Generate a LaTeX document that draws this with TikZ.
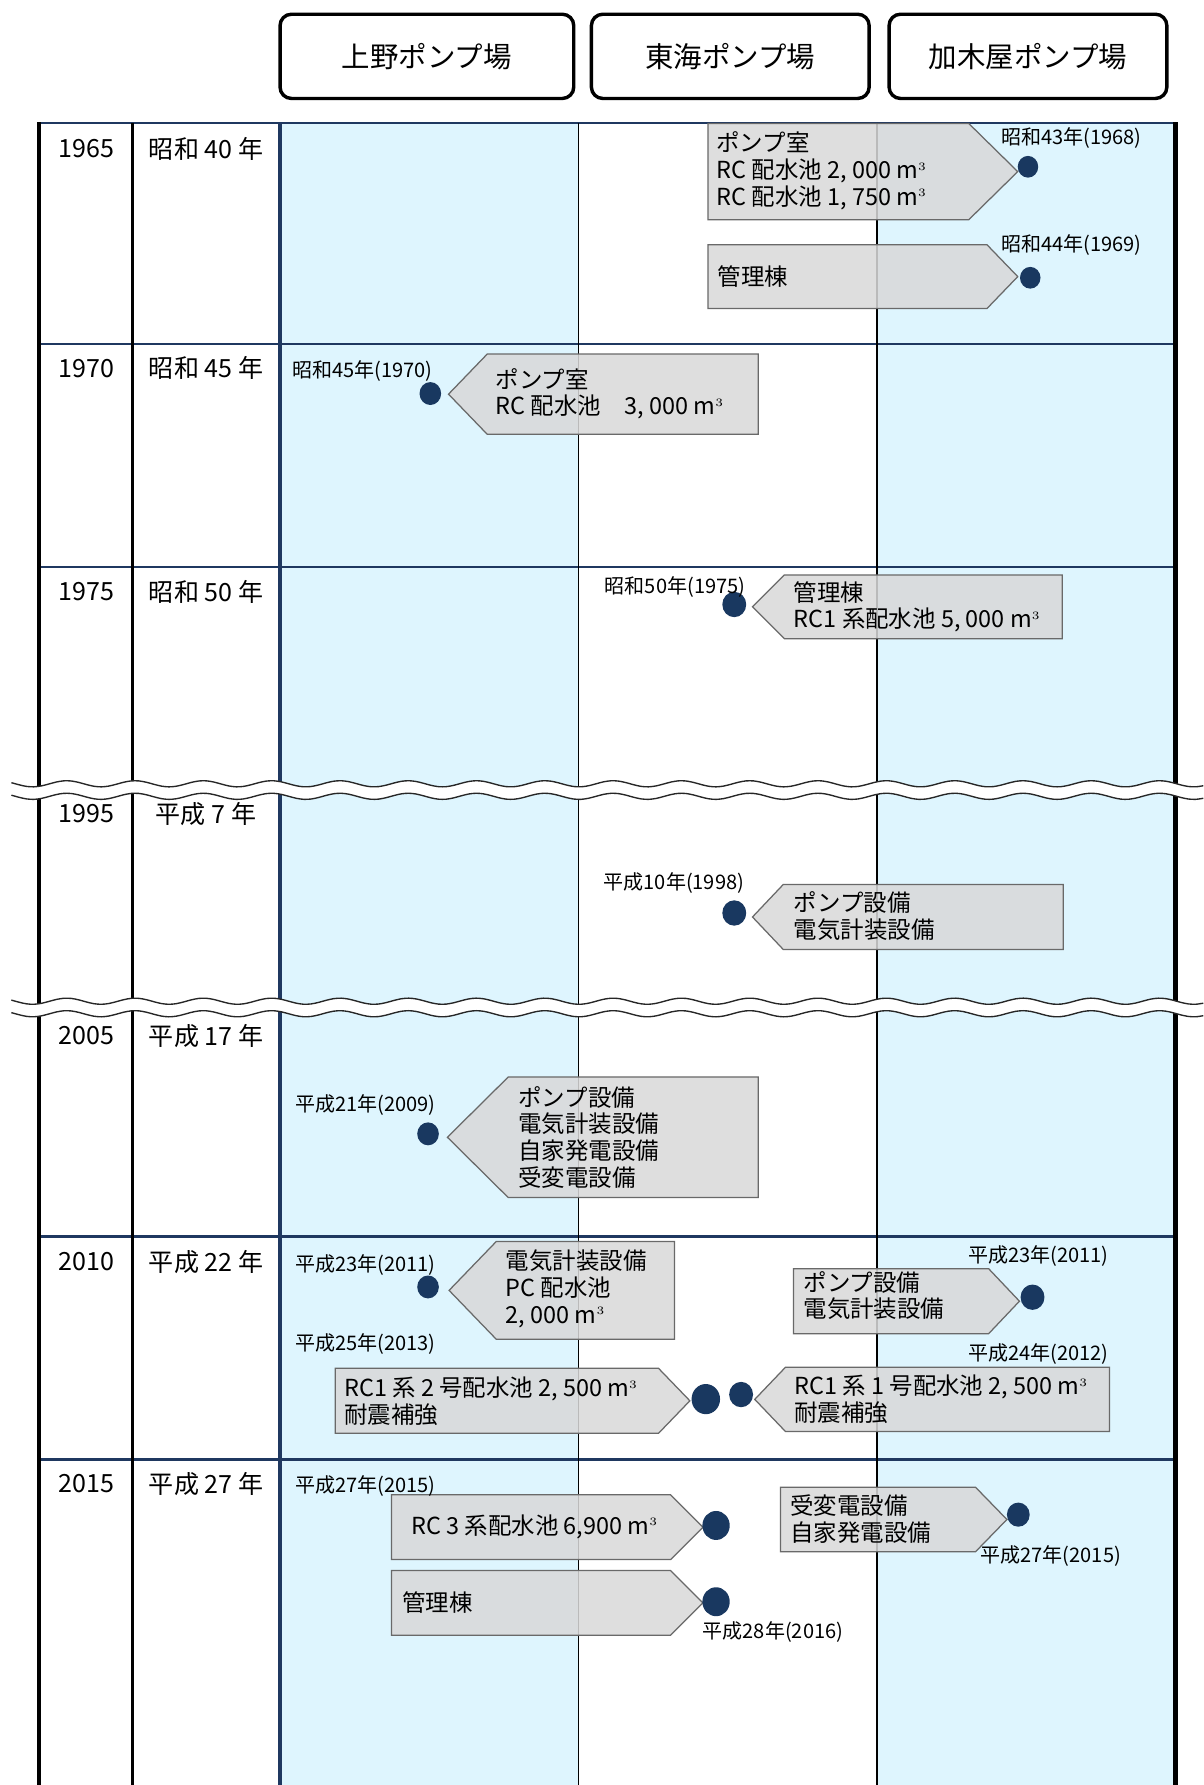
\documentclass[tikz,border=0pt]{standalone}
\usepackage{fontspec}
\setmainfont{Noto Sans CJK JP}
\usetikzlibrary{shapes.geometric}
\definecolor{navy}{RGB}{31,56,96}
\definecolor{lblue}{RGB}{222,245,254}
\definecolor{boxg}{RGB}{217,217,217}
\definecolor{boxb}{RGB}{105,105,105}
\definecolor{dotc}{RGB}{25,56,96}
\newcommand\mcube{$\mathrm{m}^{\scriptscriptstyle 3}$}
\newcommand\pent[5]{% flat x, top, bottom, shoulder x, tip x
  \path[pentbox] (#1,#2) -- (#4,#2) -- (#5,{(#2+#3)/2}) -- (#4,#3) -- (#1,#3) -- cycle;}
\newcommand\wavecut[1]{%
  \fill[white] plot[domain=10:1057,samples=160,smooth] (\x,{#1-2.7*cos(6*(\x-58.6))})
     -- plot[domain=1057:10,samples=160,smooth] (\x,{#1+11-2.7*cos(6*(\x-58.6))}) -- cycle;
  \draw[wavest] plot[domain=10:1057,samples=160,smooth] (\x,{#1-2.7*cos(6*(\x-58.6))});
  \draw[wavest] plot[domain=10:1057,samples=160,smooth] (\x,{#1+11-2.7*cos(6*(\x-58.6))});}
\tikzset{
  hdr/.style={draw=black, line width=1.5pt, rounded corners=5pt, minimum height=37pt,
    inner sep=0pt, font=\fontsize{12.5}{14}\selectfont},
  yr/.style={inner sep=0pt, font=\fontsize{11}{13}\selectfont},
  itm/.style={inner sep=0pt, anchor=west, align=left, font=\fontsize{10.3}{11.75}\selectfont},
  lbl/.style={inner sep=0pt, font=\fontsize{8.8}{10}\selectfont},
  pentbox/.style={fill=boxg, fill opacity=0.86, draw=boxb, line width=0.55pt},
  dot/.style={ellipse, fill=dotc, inner sep=0pt, minimum width=#1, minimum height=1.06*#1},
  dot/.default=9pt,
  navyline/.style={draw=navy, line width=1.1pt},
  wavest/.style={draw=black!85, line width=0.6pt},
}
\begin{document}
\begin{tikzpicture}[x=0.5pt,y=-0.5pt]
\useasboundingbox (0,0) rectangle (1057,1568);
\fill[white] (0,0) rectangle (1057,1568);
% headers
\node[hdr, minimum width=129pt] (hu) at (375,49.5) {上野ポンプ場};
\node[hdr, minimum width=122pt] (ht) at (641.5,49.5) {東海ポンプ場};
\node[hdr, minimum width=122pt] (hk) at (903,49.5) {加木屋ポンプ場};
% blue columns
\fill[lblue] (246,108) rectangle (508,1568);
\fill[lblue] (770.5,108) rectangle (1032.5,1568);
% horizontal lines
\draw[navy, line width=1.2pt] (34,108) -- (1034,108);
\foreach \yy in {302,498,1086,1282} \draw[navyline] (34,\yy) -- (1032,\yy);
% vertical lines
\draw[black, line width=0.6pt] (508,108) -- (508,1568);
\draw[black, line width=0.6pt] (770.5,108) -- (770.5,1568);
\draw[navy, line width=1.5pt] (246,108) -- (246,1568);
\draw[black, line width=1.2pt] (116.5,108) -- (116.5,1568);
\draw[black, line width=1.8pt] (34,107.5) -- (34,1568);
\draw[black, line width=2pt] (1032.5,107.5) -- (1032.5,1568);
% breaks
\wavecut{688.5}
\wavecut{879.5}
% year column
\node[yr] (y1) at (76,130.5) {1965};  \node[yr] (e1) at (181,130.5) {昭和 40 年};
\node[yr] (y2) at (76,323.5) {1970};  \node[yr] (e2) at (181,323.5) {昭和 45 年};
\node[yr] (y3) at (76,520) {1975};    \node[yr] (e3) at (181,520) {昭和 50 年};
\node[yr] (y4) at (76,715) {1995};    \node[yr] (e4) at (181,715) {平成 7 年};
\node[yr] (y5) at (76,910) {2005};    \node[yr] (e5) at (181,910) {平成 17 年};
\node[yr] (y6) at (76,1108.5) {2010}; \node[yr] (e6) at (181,1108.5) {平成 22 年};
\node[yr] (y7) at (76,1303.5) {2015}; \node[yr] (e7) at (181,1303.5) {平成 27 年};
% pentagons
\pent{622}{108.5}{193}{851}{894}
\pent{622}{215}{271}{867}{894}
\pent{666}{311}{381.5}{428}{394}
\pent{933}{505}{561}{689}{661}
\pent{934}{777}{834}{688}{661}
\pent{666}{946}{1052}{446.5}{393}
\pent{592.5}{1090.5}{1176.5}{436}{394.5}
\pent{697}{1114.5}{1171.5}{868.5}{895.5}
\pent{294.5}{1202}{1259}{578.5}{606}
\pent{974.5}{1201}{1257.5}{690}{663}
\pent{344}{1313}{1370}{589}{617.5}
\pent{344}{1379.5}{1436.5}{589}{617.5}
\pent{685.5}{1306.5}{1363}{857}{884.5}
% item texts
\node[itm] (t1) at (629,150) {ポンプ室\\RC 配水池 2, 000 \mcube\\RC 配水池 1, 750 \mcube};
\node[itm] (t2) at (630,243) {管理棟};
\node[itm] (t3) at (435,346) {ポンプ室\\RC 配水池　3, 000 \mcube};
\node[itm] (t4) at (697,533) {管理棟\\RC1 系配水池 5, 000 \mcube};
\node[itm] (t5) at (697,805) {ポンプ設備\\電気計装設備};
\node[itm] (t6) at (455,999) {ポンプ設備\\電気計装設備\\自家発電設備\\受変電設備};
\node[itm] (t7) at (444,1132) {電気計装設備\\PC 配水池\\2, 000 \mcube};
\node[itm] (t8) at (705.5,1138) {ポンプ設備\\電気計装設備};
\node[itm] (t9) at (302,1231) {RC1 系 2 号配水池 2, 500 \mcube\\耐震補強};
\node[itm] (t10) at (697.5,1229) {RC1 系 1 号配水池 2, 500 \mcube\\耐震補強};
\node[itm] (t11) at (361,1341) {RC 3 系配水池 6,900 \mcube};
\node[itm] (t12) at (353,1408) {管理棟};
\node[itm] (t13) at (694,1334.5) {受変電設備\\自家発電設備};
% dots
\node[dot=9pt] (d1) at (903,146.5) {};
\node[dot=9pt] (d2) at (905,244) {};
\node[dot=9.5pt] (d3) at (378,345.7) {};
\node[dot=10.5pt] (d4) at (645,531) {};
\node[dot=10.5pt] (d5) at (645,802) {};
\node[dot=9.5pt] (d6) at (376,996) {};
\node[dot=9.5pt] (d7) at (376,1130.5) {};
\node[dot=10.5pt] (d8) at (907,1139.5) {};
\node[dot=12.5pt] (d9) at (620,1229) {};
\node[dot=10.5pt] (d10) at (651,1225) {};
\node[dot=12pt] (d11) at (629,1340) {};
\node[dot=12pt] (d12) at (629,1407) {};
\node[dot=10pt] (d13) at (894.5,1330.5) {};
% date labels
\node[lbl] (l1) at (941,121.5) {昭和43年(1968)};
\node[lbl] (l2) at (941,215) {昭和44年(1969)};
\node[lbl] (l3) at (318.5,326) {昭和45年(1970)};
\node[lbl] (l4) at (593,515.5) {昭和50年(1975)};
\node[lbl] (l5) at (592,776) {平成10年(1998)};
\node[lbl] (l6) at (321,971) {平成21年(2009)};
\node[lbl] (l7) at (321,1111.5) {平成23年(2011)};
\node[lbl] (l8) at (321,1180.5) {平成25年(2013)};
\node[lbl] (l9) at (912,1103.5) {平成23年(2011)};
\node[lbl] (l10) at (912,1189) {平成24年(2012)};
\node[lbl] (l11) at (321,1305.5) {平成27年(2015)};
\node[lbl] (l12) at (679,1433.5) {平成28年(2016)};
\node[lbl] (l13) at (923,1366.5) {平成27年(2015)};
\end{tikzpicture}
\end{document}
